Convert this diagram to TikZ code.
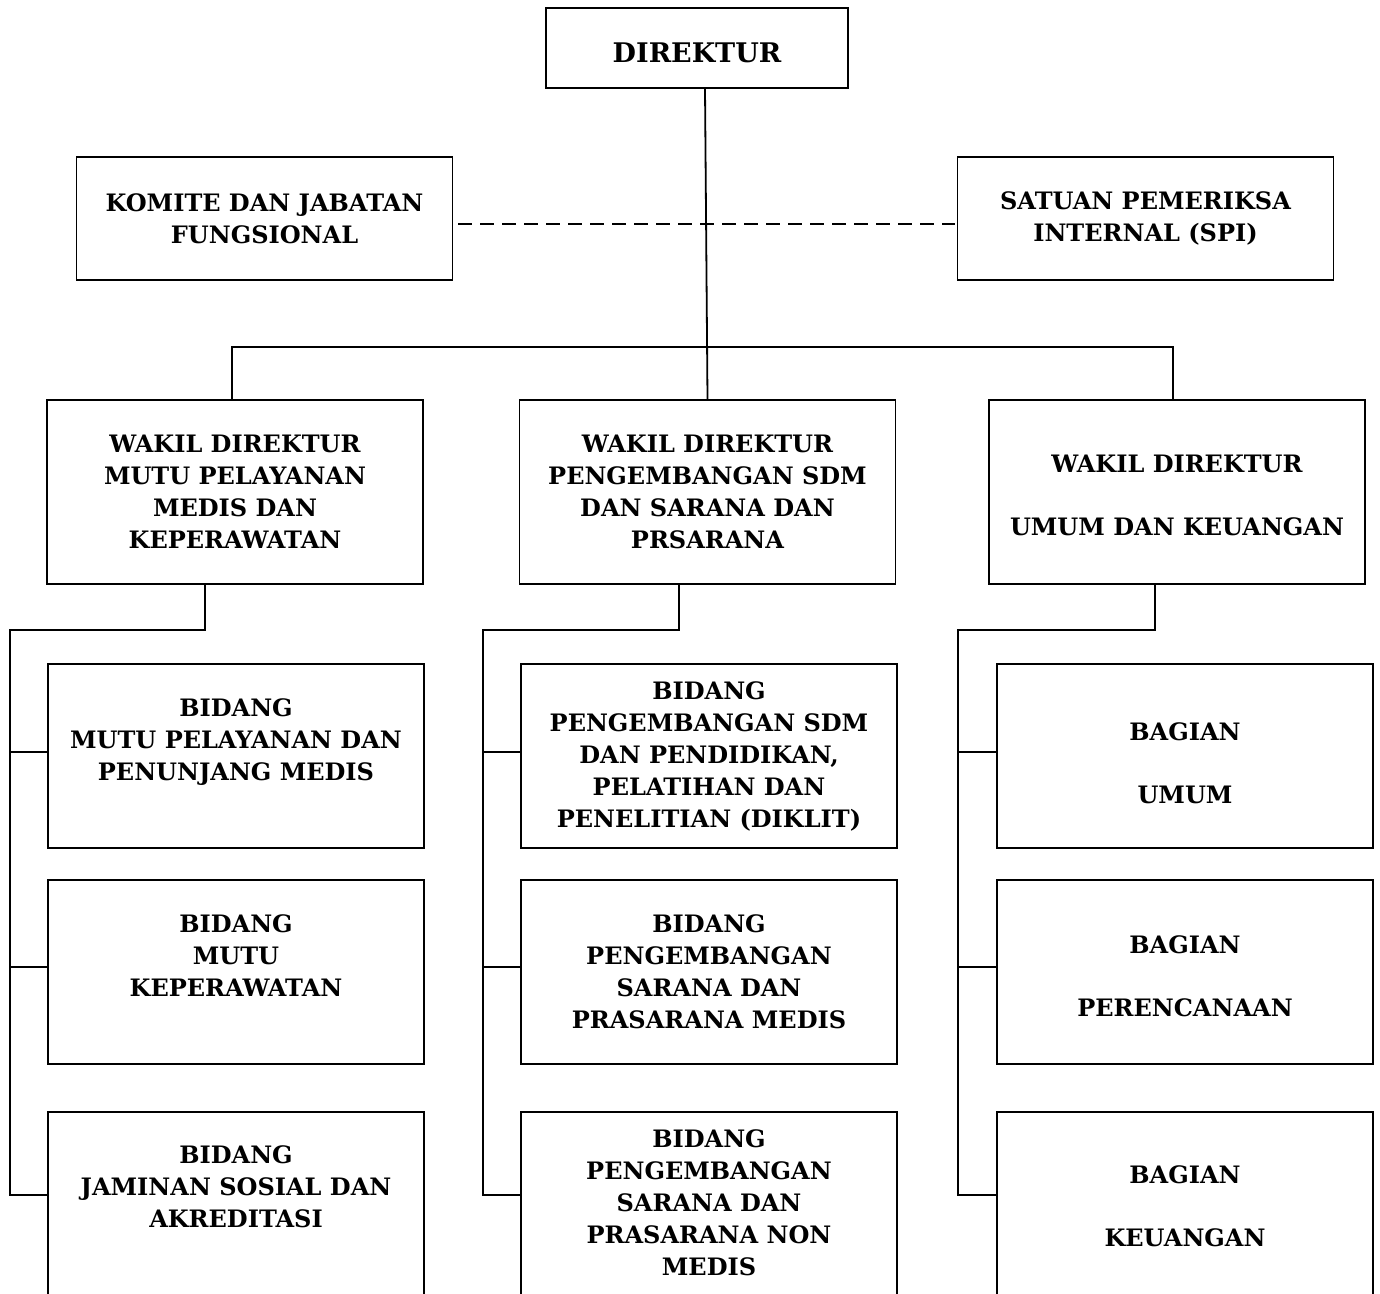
\documentclass[tikz,border=0pt]{standalone}
\usepackage{fontspec}
\setmainfont{DejaVu Serif}
\usetikzlibrary{positioning}
\tikzset{
  unit/.style={draw, line width=0.9pt, align=center, inner sep=0pt,
    minimum width=188pt, minimum height=92pt,
    font=\fontsize{12}{16}\selectfont\bfseries},
  link/.style={line width=0.9pt},
}
\begin{document}
\begin{tikzpicture}[x=1pt,y=1pt]
\useasboundingbox (0,0) rectangle (690,-647);
% pimpinan
\node[unit, minimum width=151pt, minimum height=40pt,
  font=\fontsize{13.5}{16}\selectfont\bfseries] (dir) at (348.5,-24) {\rule{0pt}{15pt}DIREKTUR};
\node[unit, minimum height=61.5pt] (komite) at (132.25,-109.25) {KOMITE DAN JABATAN\\FUNGSIONAL};
\node[unit, minimum height=61.5pt] (spi) at (572.75,-109.25) {SATUAN PEMERIKSA\\INTERNAL (SPI)};
% wakil direktur
\node[unit] (wd1) at (117.5,-246) {WAKIL DIREKTUR\\MUTU PELAYANAN\\MEDIS DAN\\KEPERAWATAN};
\node[unit] (wd2) at (353.75,-246) {WAKIL DIREKTUR\\PENGEMBANGAN SDM\\DAN SARANA DAN\\PRSARANA};
\node[unit] (wd3) at (588.5,-246) {\rule{0pt}{12.3pt}WAKIL DIREKTUR\\[15.5pt]UMUM DAN KEUANGAN};
% bidang dan bagian
\node[unit] (l1) at (118,-378) {BIDANG\\MUTU PELAYANAN DAN\\PENUNJANG MEDIS\\~};
\node[unit] (l2) at (118,-486) {BIDANG\\MUTU\\KEPERAWATAN\\~};
\node[unit, minimum height=94pt] (l3) at (118,-603) {BIDANG\\JAMINAN SOSIAL DAN\\AKREDITASI\\[3.5pt]~};
\node[unit] (m1) at (354.5,-378) {BIDANG\\PENGEMBANGAN SDM\\DAN PENDIDIKAN,\\PELATIHAN DAN\\PENELITIAN (DIKLIT)};
\node[unit] (m2) at (354.5,-486) {BIDANG\\PENGEMBANGAN\\SARANA DAN\\PRASARANA MEDIS};
\node[unit, minimum height=94pt] (m3) at (354.5,-603) {BIDANG\\PENGEMBANGAN\\SARANA DAN\\PRASARANA NON\\MEDIS\rule[-3pt]{0pt}{0pt}};
\node[unit] (r1) at (592.5,-378) {\rule{0pt}{16.3pt}BAGIAN\\[15.5pt]UMUM};
\node[unit] (r2) at (592.5,-486) {\rule{0pt}{13.3pt}BAGIAN\\[15.5pt]PERENCANAAN};
\node[unit, minimum height=94pt] (r3) at (592.5,-603) {BAGIAN\\[15.5pt]KEUANGAN};
% garis
\coordinate (bus) at (0,-173.5);
\coordinate (lrail) at (5,-315);
\coordinate (mrail) at (241.5,-315);
\coordinate (rrail) at (479,-315);
\draw[link] ([xshift=4pt]dir.south) -- (wd2.north);
\draw[link, dash pattern=on 7pt off 4pt] ([xshift=2.5pt,yshift=-2.75pt]komite.east) -- ([xshift=-1pt,yshift=-2.75pt]spi.west);
\draw[link] ([xshift=-1.5pt]wd1.north) |- (bus -| wd2.north) -| ([xshift=-2pt]wd3.north);
\draw[link] ([xshift=-15pt]wd1.south) |- (lrail) |- ([yshift=5.5pt]l3.west);
\draw[link] (lrail |- l1.west) ++(0,2) -- ([yshift=2pt]l1.west);
\draw[link] (lrail |- l2.west) ++(0,2.5) -- ([yshift=2.5pt]l2.west);
\draw[link] ([xshift=-14.25pt]wd2.south) |- (mrail) |- ([yshift=5.5pt]m3.west);
\draw[link] (mrail |- m1.west) ++(0,2) -- ([yshift=2pt]m1.west);
\draw[link] (mrail |- m2.west) ++(0,2.5) -- ([yshift=2.5pt]m2.west);
\draw[link] ([xshift=-11pt]wd3.south) |- (rrail) |- ([yshift=5.5pt]r3.west);
\draw[link] (rrail |- r1.west) ++(0,2) -- ([yshift=2pt]r1.west);
\draw[link] (rrail |- r2.west) ++(0,2.5) -- ([yshift=2.5pt]r2.west);
\end{tikzpicture}
\end{document}
